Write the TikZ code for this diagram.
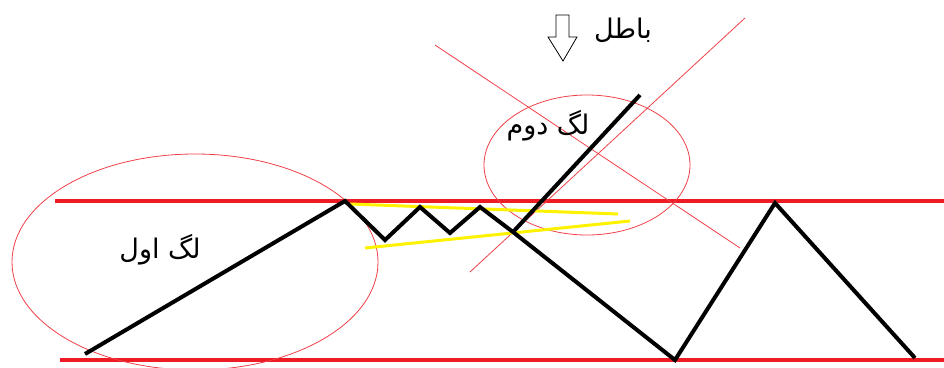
\documentclass[tikz,border=0pt]{standalone}
\usepackage{fontspec}
\TeXXeTstate=1
\newfontfamily\arabicfont[Script=Arabic]{DejaVu Sans}
\definecolor{pred}{HTML}{ED1C24}
\definecolor{pyel}{HTML}{FFF200}
\definecolor{pthin}{HTML}{F04048}
\begin{document}
\begin{tikzpicture}[x=1pt,y=-1pt,
  channel/.style={draw=pred,line width=4pt},
  price/.style={draw=black,line width=4pt,line join=miter,line cap=butt},
  wedge/.style={draw=pyel,line width=3pt},
  thinred/.style={draw=pthin,line width=0.8pt},
  lbl/.style={font=\arabicfont\fontsize{27}{30}\selectfont,inner sep=0pt}]
\useasboundingbox (0,0) rectangle (944,367);
% channel lines
\coordinate (t1) at (55,201); \coordinate (t2) at (944,201);
\coordinate (b1) at (60,360); \coordinate (b2) at (944,360);
\draw[channel] (t1) -- (t2);
\draw[channel] (b1) -- (b2);
% ellipses
\draw[thinred] (195,262) ellipse [x radius=183pt, y radius=108pt];
\draw[thinred] (587,165) ellipse [x radius=103pt, y radius=70pt];
% crossing lines
\coordinate (c1a) at (435,45); \coordinate (c1b) at (740,248);
\coordinate (c2a) at (745,18); \coordinate (c2b) at (470,272);
\draw[thinred] (c1a) -- (c1b);
\draw[thinred] (c2a) -- (c2b);
% yellow wedge
\coordinate (y1a) at (350,204); \coordinate (y1b) at (618,214);
\coordinate (y2a) at (365,248); \coordinate (y2b) at (630,221);
\draw[wedge] (y1a) -- (y1b);
\draw[wedge] (y2a) -- (y2b);
% price path
\coordinate (p0) at (85,354);
\coordinate (p1) at (345,201);
\coordinate (p2) at (385,240);
\coordinate (p3) at (420,207);
\coordinate (p4) at (450,233);
\coordinate (p5) at (480,207);
\coordinate (p6) at (513,232);
\coordinate (p7) at (675,360);
\coordinate (p8) at (775,203);
\coordinate (p9) at (915,358);
\coordinate (q1) at (640,95);
\draw[price] (p0) -- (p1) -- (p2) -- (p3) -- (p4) -- (p5) -- (p6) -- (p7) -- (p8) -- (p9);
\draw[price] (p6) -- (q1);
% block arrow
\draw[black,line width=0.8pt,fill=white] (556,15) -- (569,15) -- (569,37) -- (577,37) -- (563,61) -- (548,37) -- (556,37) -- cycle;
% labels
\node[lbl] (batel) at (623,30) {\beginR باطل\endR};
\node[lbl] (leg2) at (548,126) {\beginR لگ دوم\endR};
\node[lbl] (leg1) at (160,250) {\beginR لگ اول\endR};
\end{tikzpicture}
\end{document}
